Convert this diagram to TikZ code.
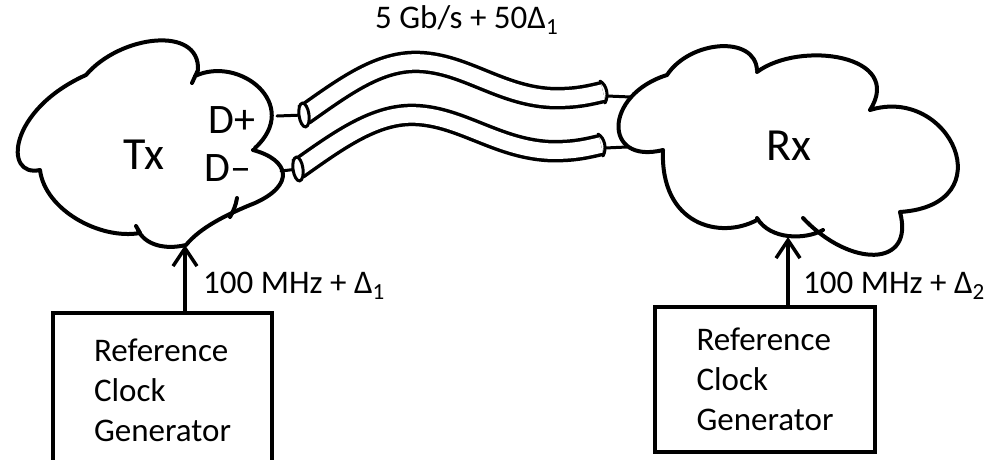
\documentclass[tikz,border=0pt]{standalone}
\usepackage{fontspec}
\setmainfont{Carlito}
\usetikzlibrary{arrows.meta,positioning}

\tikzset{
  cloudline/.style={line width=4pt, line cap=round, line join=round},
  clkbox/.style={draw, line width=3.2pt, align=left, inner sep=0pt,
    font=\fontsize{33}{40}\selectfont},
  clkarrow/.style={line width=3.5pt, -{Straight Barb[length=18pt,width=24pt]}},
  cable/.style={line width=3.5pt, double=white, double distance=15.5pt},
  wire/.style={line width=3pt, line cap=round},
  lbl/.style={inner sep=0pt, font=\fontsize{33}{40}\selectfont},
  hand/.style={inner sep=0pt, font=\fontsize{42}{44}\selectfont},
  unit/.style={inner sep=0pt, font=\fontsize{46}{50}\selectfont}
}

\begin{document}
\begin{tikzpicture}[x=1pt,y=-1pt]
    \useasboundingbox (0,0) rectangle (999,459);

    % transmitter cloud
    \draw[cloudline] (40,170) .. controls (3,178) and (8,110) .. (86,75)
      (86,75) .. controls (120,35) and (200,25) .. (198,70) -- (192,83)
      (195,76) .. controls (240,55) and (302,105) .. (255,148)
      (253,150) .. controls (290,160) and (295,185) .. (255,203)
        .. controls (225,215) and (200,228) .. (186,245)
      (186,245) .. controls (165,250) and (145,245) .. (138,230)
      (140,233) .. controls (100,240) and (45,210) .. (40,170);
    \draw[cloudline] (237,198) .. controls (236,205) and (233,212) .. (230,217);
    \draw[cloudline] (136,226) -- (140,233);

    % receiver cloud
    \draw[cloudline] (663,150) .. controls (603,165) and (603,95) .. (667,75)
        .. controls (690,40) and (755,35) .. (757,70)
      (757,72) .. controls (800,40) and (905,55) .. (870,110)
      (870,110) .. controls (950,85) and (1005,205) .. (900,212)
      (900,212) .. controls (915,268) and (850,268) .. (803,218)
      (823,230) .. controls (805,240) and (770,240) .. (757,218)
      (757,220) .. controls (720,240) and (660,225) .. (663,150);

    \node[unit] (tx) at (144,155) {Tx};
    \node[unit] (rx) at (789,146) {Rx};
    \node[hand] (dplus) at (232,120) {D+};
    \node[hand] (dminus) at (228,168) {D--};

    % differential pair
    \coordinate (tpa) at (304,115);
    \coordinate (rpa) at (603,92);
    \coordinate (tma) at (298,169);
    \coordinate (rma) at (601,145);
    \coordinate (txdp) at (277,116);
    \coordinate (txdm) at (281,171);
    \coordinate (rxdp) at (631,97);
    \coordinate (rxdm) at (627,147);
    \draw[cable] (tpa) .. controls (345,86) and (380,60) .. (420,62)
      .. controls (465,64) and (500,95) .. (550,98)
      .. controls (575,99) and (590,95) .. (rpa);
    \draw[cable] (tma) .. controls (339,140) and (376,113) .. (416,115)
      .. controls (461,117) and (497,148) .. (548,151)
      .. controls (573,152) and (588,148) .. (rma);
    \draw[wire] (txdp) -- (tpa);
    \draw[wire] (txdm) -- (tma);
    \draw[wire, fill=white, rotate around={8:(tpa)}] (tpa) ellipse (5pt and 12pt);
    \draw[wire, fill=white, rotate around={8:(tma)}] (tma) ellipse (5pt and 12pt);
    \draw[wire] (600,81) .. controls (607,85) and (609,96) .. (605,103);
    \draw[wire] (598,134) .. controls (605,138) and (607,149) .. (603,156);
    \draw[wire] (607,96) -- (rxdp);
    \draw[wire] (605,148) -- (rxdm);
    \node[lbl, anchor=base west] (rate) at (375,28) {5 Gb/s + 50Δ\textsubscript{1}};

    % reference clocks
    \coordinate (txin) at (185,245);
    \coordinate (rxin) at (788,237);
    \node[clkbox, minimum width=219pt, minimum height=154pt] (tclk) at (162.5,390)
      {Reference\\Clock\\Generator};
    \node[clkbox, minimum width=220pt, minimum height=145pt] (rclk) at (765,379.5)
      {Reference\\Clock\\Generator};
    \draw[clkarrow] (tclk.north -| txin) -- (txin);
    \draw[clkarrow] (rclk.north -| rxin) -- (rxin);
    \node[lbl, anchor=base west] (tfreq) at (203,293) {100 MHz + Δ\textsubscript{1}};
    \node[lbl, anchor=base west] (rfreq) at (803,293) {100 MHz + Δ\textsubscript{2}};
\end{tikzpicture}
\end{document}
